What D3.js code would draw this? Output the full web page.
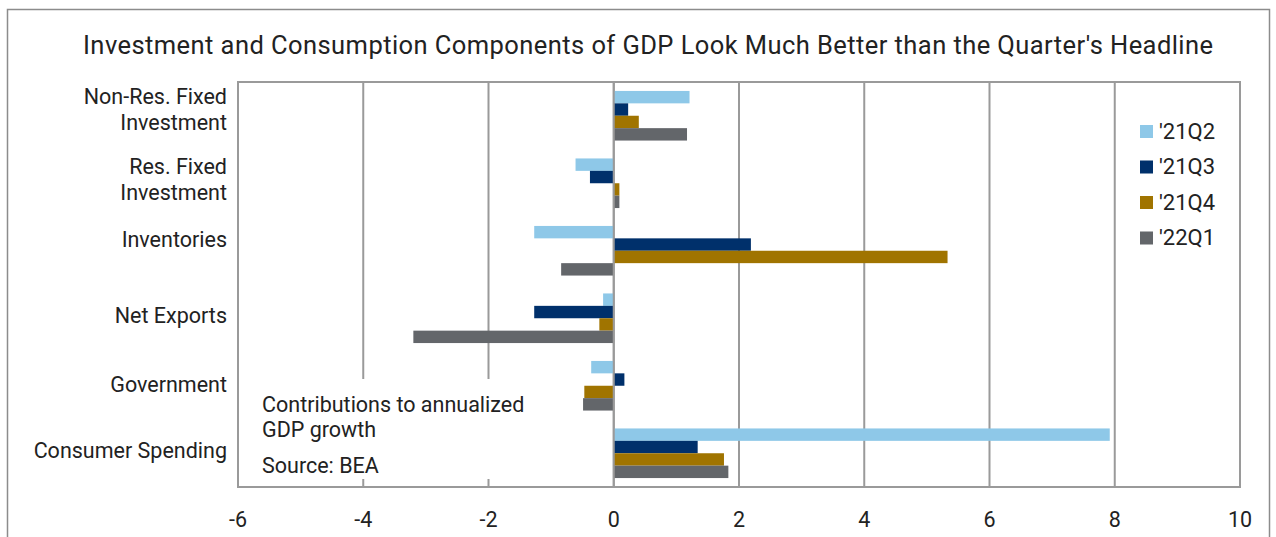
<!DOCTYPE html>
<html>
<head>
<meta charset="utf-8">
<script src="https://cdn.jsdelivr.net/npm/d3@7"></script>
<style>
  body { margin: 0; background: #fff; }
  svg text { font-family: Roboto, "Liberation Sans", sans-serif; fill: #222; }
</style>
</head>
<body>
<svg id="chart"></svg>
<script>
// categories top to bottom
const categories = ["Non-Res. Fixed Investment", "Res. Fixed Investment", "Inventories", "Net Exports", "Government", "Consumer Spending"];
const categoryLines = [["Non-Res. Fixed", "Investment"], ["Res. Fixed", "Investment"], ["Inventories"], ["Net Exports"], ["Government"], ["Consumer Spending"]];
const seriesNames = ["'21Q2", "'21Q3", "'21Q4", "'22Q1"];
const q221 = [1.21, -0.61, -1.27, -0.17, -0.36, 7.92];
const q321 = [0.23, -0.38, 2.19, -1.27, 0.17, 1.34];
const q421 = [0.40, 0.09, 5.33, -0.23, -0.47, 1.76];
const q122 = [1.17, 0.09, -0.84, -3.20, -0.49, 1.83];
const xTicks = [-6, -4, -2, 0, 2, 4, 6, 8, 10];
const colors = ["#8ec8e8", "#00306b", "#a07400", "#63666a"];

const seriesValues = [q221, q321, q421, q122];

// layout: label nudges (px) from the band centre, like excel placed them
const labelNudge = [-6, -4, -11, -3, -1, -3];

const W = 1276, H = 537;
const svg = d3.select("#chart").attr("width", W).attr("height", H);

// outer frame
svg.append("rect")
    .attr("x", 7.5).attr("y", 9.5)
    .attr("width", 1262).attr("height", 560)
    .attr("fill", "none").attr("stroke", "#8c8c8c").attr("stroke-width", 1.5);

svg.append("text")
    .attr("x", 648).attr("y", 54)
    .attr("text-anchor", "middle")
    .attr("textLength", 1130)
    .style("font-size", "25.5px")
    .text("Investment and Consumption Components of GDP Look Much Better than the Quarter's Headline");

const plotL = 238, plotR = 1240, plotT = 82, plotB = 487;

const x = d3.scaleLinear().domain([-6, 10]).range([plotL, plotR]);
const y = d3.scaleBand().domain(categories).range([plotT, plotB]).paddingInner(0.265).paddingOuter(0.1325);
const ySub = d3.scaleBand().domain(seriesNames).range([0, y.bandwidth()]);

// gridlines
svg.append("g")
    .selectAll("line")
    .data(xTicks)
    .join("line")
    .attr("x1", d => x(d)).attr("x2", d => x(d))
    .attr("y1", plotT).attr("y2", plotB)
    .attr("stroke", "#9a9a9a").attr("stroke-width", 2);

svg.append("rect")
    .attr("x", plotL).attr("y", plotT)
    .attr("width", plotR - plotL).attr("height", plotB - plotT)
    .attr("fill", "none").attr("stroke", "#9a9a9a").attr("stroke-width", 2);

// annotation box (white background covers gridlines)
svg.append("rect")
    .attr("x", 244).attr("y", 379)
    .attr("width", 300).attr("height", 100)
    .attr("fill", "#fff");

// bars
const groups = svg.append("g")
    .selectAll("g")
    .data(seriesNames)
    .join("g")
    .attr("fill", (d, i) => colors[i]);

groups.selectAll("rect")
    .data((s, si) => categories.map((c, ci) => ({ cat: c, s: s, v: seriesValues[si][ci] })))
    .join("rect")
    .attr("x", d => x(Math.min(0, d.v)))
    .attr("width", d => Math.abs(x(d.v) - x(0)))
    .attr("y", d => y(d.cat) + ySub(d.s))
    .attr("height", ySub.bandwidth());

// zero line on top
svg.append("line")
    .attr("x1", x(0)).attr("x2", x(0))
    .attr("y1", plotT).attr("y2", plotB)
    .attr("stroke", "#9a9a9a").attr("stroke-width", 2);

// category labels
const lab = svg.append("g");
categories.forEach((c, i) => {
    const lines = categoryLines[i];
    const cy = y(c) + y.bandwidth() / 2 + labelNudge[i];
    const t = lab.append("text")
        .attr("text-anchor", "end")
        .style("font-size", "21.5px");
    lines.forEach((ln, j) => {
        t.append("tspan")
            .attr("x", 227)
            .attr("y", cy + (j - (lines.length - 1) / 2) * 26 + 7.5)
            .text(ln);
    });
});

// x tick labels
svg.append("g")
    .selectAll("text")
    .data(xTicks)
    .join("text")
    .attr("x", d => x(d))
    .attr("y", 527)
    .attr("text-anchor", "middle")
    .style("font-size", "21.5px")
    .text(d => d);

// annotation
const note = svg.append("text").style("font-size", "21.5px");
note.append("tspan").attr("x", 262).attr("y", 412).text("Contributions to annualized");
note.append("tspan").attr("x", 262).attr("y", 437).text("GDP growth");
note.append("tspan").attr("x", 262).attr("y", 473).text("Source: BEA");

// legend
const leg = svg.append("g").attr("transform", "translate(1140,125)");
seriesNames.forEach((s, i) => {
    const g = leg.append("g").attr("transform", `translate(0,${i * 35.5})`);
    g.append("rect").attr("width", 13).attr("height", 13).attr("fill", colors[i]);
    g.append("text").attr("x", 19).attr("y", 13.5).style("font-size", "22px").text(s);
});
</script>
</body>
</html>
